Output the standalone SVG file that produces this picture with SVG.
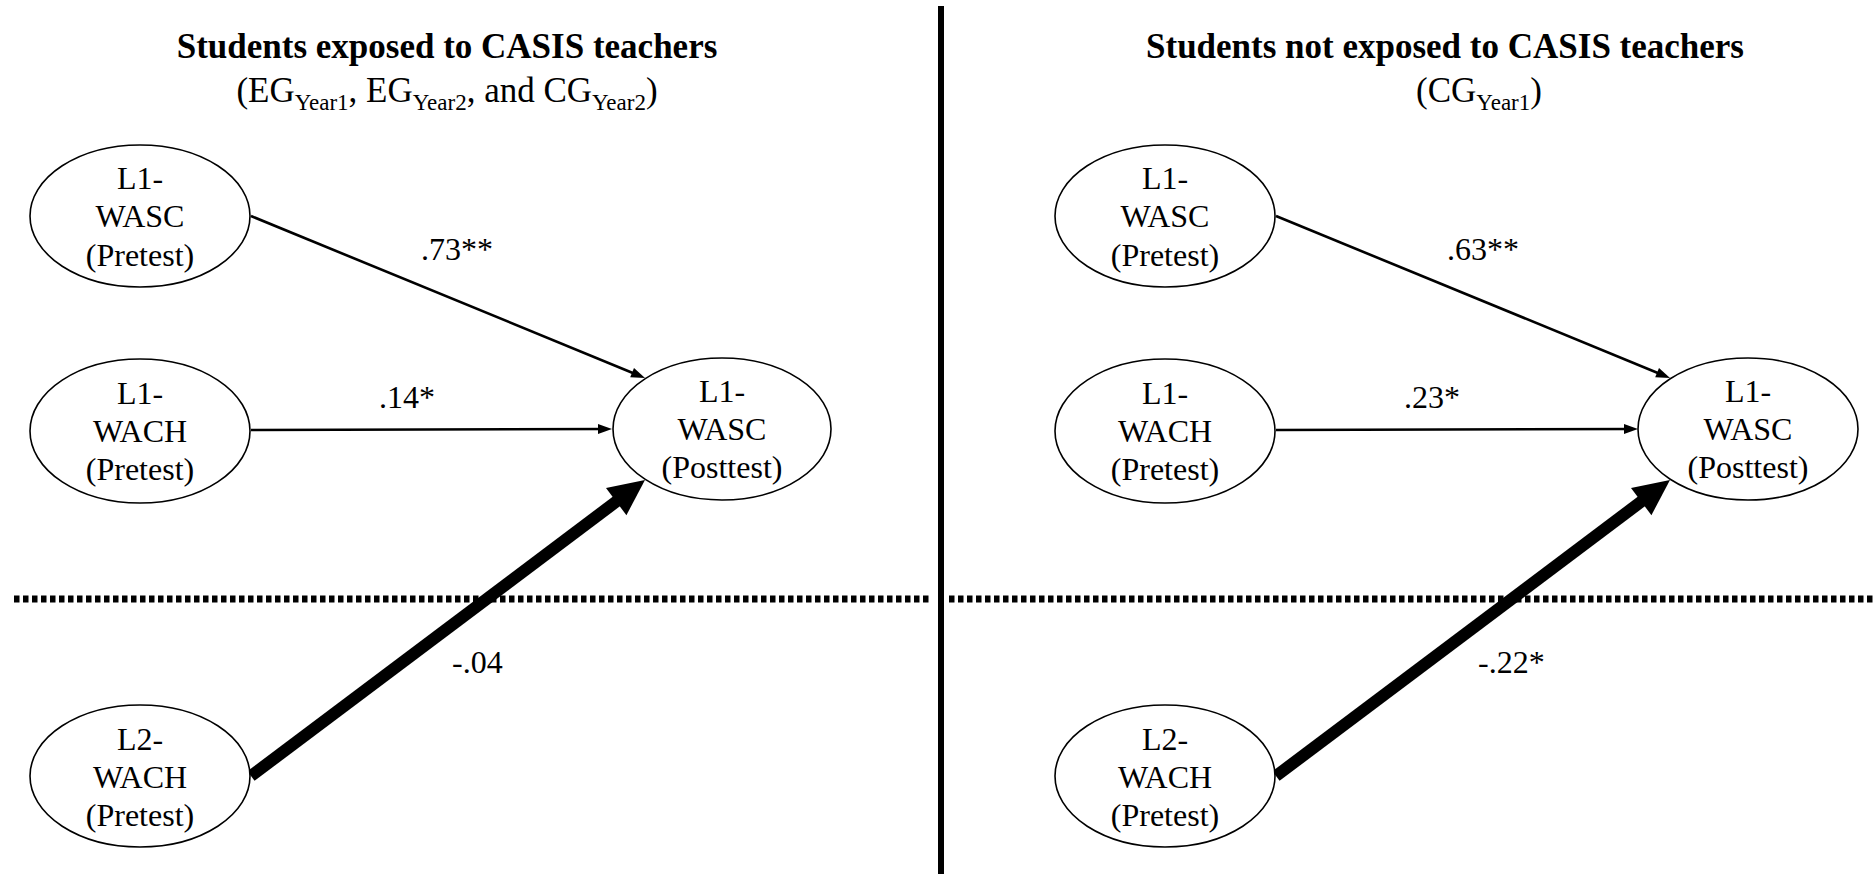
<svg xmlns="http://www.w3.org/2000/svg" width="1874" height="874" viewBox="0 0 1874 874">
<style>
.bg{fill:#ffffff}
.node{fill:#ffffff;stroke:#000;stroke-width:1.6}
.nt{font-family:"Liberation Serif","Times New Roman",serif;font-size:32px;fill:#000;text-anchor:middle}
.lbl{font-family:"Liberation Serif","Times New Roman",serif;font-size:32px;fill:#000}
.title{font-family:"Liberation Serif","Times New Roman",serif;font-size:35px;font-weight:bold;fill:#000;text-anchor:middle}
.sub{font-family:"Liberation Serif","Times New Roman",serif;font-size:35px;fill:#000;text-anchor:middle}
.thin{stroke:#000;stroke-width:2.6;fill:none}
.thick{stroke:#000;stroke-width:12;fill:none}
.dots{stroke:#000;stroke-width:7;stroke-dasharray:5.5 3.5;fill:none}
.divider{stroke:#000;stroke-width:6}
</style>
<defs>
<marker id="ah" markerUnits="userSpaceOnUse" markerWidth="14" markerHeight="10" refX="8" refY="5" orient="auto" overflow="visible">
<path d="M0,0 L14,5 L0,10 z" fill="#000"/>
</marker>
<marker id="ahBig" markerUnits="userSpaceOnUse" markerWidth="36" markerHeight="34" refX="8" refY="17" orient="auto" overflow="visible">
<path d="M0,0 L36,17 L0,34 z" fill="#000"/>
</marker>
</defs>
<rect class="bg" x="0" y="0" width="1874" height="874"/>

<g id="separators">
<line class="divider" x1="941" y1="6" x2="941" y2="874"/>
<line class="dots" x1="14" y1="599" x2="932" y2="599"/>
<line class="dots" x1="949" y1="599" x2="1874" y2="599"/>
</g>

<g id="titles">
<text class="title" x="447" y="58">Students exposed to CASIS teachers</text>
<text class="sub" x="447" y="102">(EG<tspan font-size="23" dy="8">Year1</tspan><tspan dy="-8">, EG</tspan><tspan font-size="23" dy="8">Year2</tspan><tspan dy="-8">, and CG</tspan><tspan font-size="23" dy="8">Year2</tspan><tspan dy="-8">)</tspan></text>
<text class="title" x="1445" y="58">Students not exposed to CASIS teachers</text>
<text class="sub" x="1479" y="102">(CG<tspan font-size="23" dy="8">Year1</tspan><tspan dy="-8">)</tspan></text>
</g>

<g id="connectors">
<line class="thin" x1="251" y1="216" x2="639.5" y2="375.7" marker-end="url(#ah)"/>
<line class="thin" x1="251" y1="430" x2="606" y2="429" marker-end="url(#ah)"/>
<line class="thick" x1="251" y1="776" x2="622.6" y2="496.8" marker-end="url(#ahBig)"/>
<line class="thin" x1="1276" y1="216" x2="1664.5" y2="375.7" marker-end="url(#ah)"/>
<line class="thin" x1="1276" y1="430" x2="1632" y2="429" marker-end="url(#ah)"/>
<line class="thick" x1="1276" y1="776" x2="1647.6" y2="496.8" marker-end="url(#ahBig)"/>
<text class="lbl" x="421" y="260">.73**</text>
<text class="lbl" x="379" y="408">.14*</text>
<text class="lbl" x="452" y="673">-.04</text>
<text class="lbl" x="1447" y="260">.63**</text>
<text class="lbl" x="1404" y="408">.23*</text>
<text class="lbl" x="1478" y="673">-.22*</text>
</g>

<g id="L-A">
<ellipse class="node" cx="140" cy="216" rx="110" ry="71"/>
<text class="nt" x="140" y="189">L1-</text>
<text class="nt" x="140" y="227">WASC</text>
<text class="nt" x="140" y="266">(Pretest)</text>
</g>
<g id="L-B">
<ellipse class="node" cx="140" cy="431" rx="110" ry="72"/>
<text class="nt" x="140" y="404">L1-</text>
<text class="nt" x="140" y="442">WACH</text>
<text class="nt" x="140" y="480">(Pretest)</text>
</g>
<g id="L-C">
<ellipse class="node" cx="140" cy="776" rx="110" ry="71"/>
<text class="nt" x="140" y="750">L2-</text>
<text class="nt" x="140" y="788">WACH</text>
<text class="nt" x="140" y="826">(Pretest)</text>
</g>
<g id="L-D">
<ellipse class="node" cx="722" cy="429" rx="109" ry="71"/>
<text class="nt" x="722" y="402">L1-</text>
<text class="nt" x="722" y="440">WASC</text>
<text class="nt" x="722" y="478">(Posttest)</text>
</g>

<g id="R-A">
<ellipse class="node" cx="1165" cy="216" rx="110" ry="71"/>
<text class="nt" x="1165" y="189">L1-</text>
<text class="nt" x="1165" y="227">WASC</text>
<text class="nt" x="1165" y="266">(Pretest)</text>
</g>
<g id="R-B">
<ellipse class="node" cx="1165" cy="431" rx="110" ry="72"/>
<text class="nt" x="1165" y="404">L1-</text>
<text class="nt" x="1165" y="442">WACH</text>
<text class="nt" x="1165" y="480">(Pretest)</text>
</g>
<g id="R-C">
<ellipse class="node" cx="1165" cy="776" rx="110" ry="71"/>
<text class="nt" x="1165" y="750">L2-</text>
<text class="nt" x="1165" y="788">WACH</text>
<text class="nt" x="1165" y="826">(Pretest)</text>
</g>
<g id="R-D">
<ellipse class="node" cx="1748" cy="429" rx="110" ry="71"/>
<text class="nt" x="1748" y="402">L1-</text>
<text class="nt" x="1748" y="440">WASC</text>
<text class="nt" x="1748" y="478">(Posttest)</text>
</g>
</svg>
